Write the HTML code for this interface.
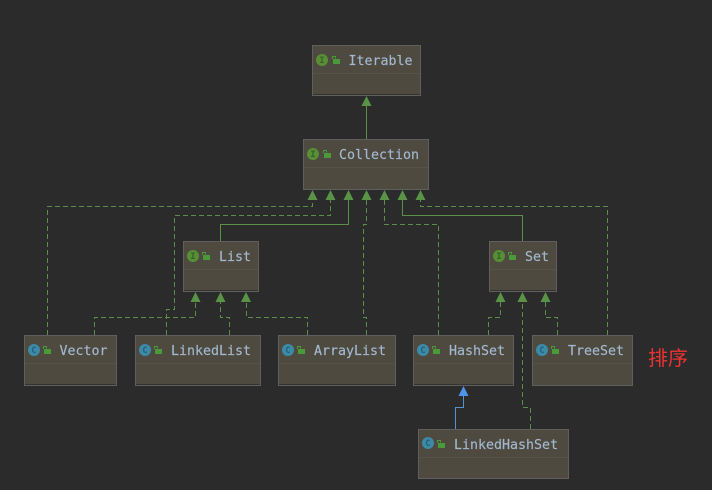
<!DOCTYPE html>
<html><head><meta charset="utf-8">
<style>
html,body{margin:0;padding:0;background:#2b2b2b}
svg{display:block}
.b{fill:#4e4a3f;stroke:#5f5f5f;stroke-width:1}
.d{stroke:#55524a;stroke-width:1}
.f{stroke:#34332e;stroke-width:1}
.t{font-family:"DejaVu Sans Mono","Liberation Mono",monospace;font-size:13.3px;fill:#a3b8d0;stroke:#a3b8d0;stroke-width:.15}
.s{fill:none;stroke:#5a8f4a;stroke-width:1}
.h{fill:none;stroke:#5a8f4a;stroke-width:1;stroke-dasharray:5 3}
.a{fill:#5a9347}
.ic{font-family:"DejaVu Sans Mono",monospace;font-size:9px;font-weight:bold;text-anchor:middle}
</style></head><body>
<svg width="712" height="490" viewBox="0 0 712 490" xmlns="http://www.w3.org/2000/svg">
<rect width="712" height="490" fill="#2b2b2b"/>
<defs>
<g id="lock"><rect x="-3" y="-1" width="7" height="5" fill="#4a9a3a"/><path d="M-3.5 -1 V-3.5 H-0.5 V-1.5" fill="none" stroke="#4a9a3a" stroke-width="1"/></g>
</defs>

<!-- boxes -->
<g>
<rect class="b" x="312.5" y="45.5" width="108" height="50"/><path class="d" d="M313 73.5H420"/><path class="f" d="M313 94.5H420"/>
<rect class="b" x="303.5" y="139.5" width="125" height="50"/><path class="d" d="M304 167.5H428"/>
<rect class="b" x="183.5" y="241.5" width="75" height="50"/><path class="d" d="M184 269.5H258"/><path class="f" d="M184 290.5H258"/>
<rect class="b" x="489.5" y="241.5" width="67" height="50"/><path class="d" d="M490 269.5H556"/><path class="f" d="M490 290.5H556"/>
<rect class="b" x="24.5" y="335.5" width="92" height="50"/><path class="d" d="M25 363.5H116"/><path class="f" d="M25 384.5H116"/>
<rect class="b" x="135.5" y="335.5" width="125" height="50"/><path class="d" d="M136 363.5H260"/><path class="f" d="M136 384.5H260"/>
<rect class="b" x="278.5" y="335.5" width="117" height="50"/><path class="d" d="M279 363.5H395"/><path class="f" d="M279 384.5H395"/>
<rect class="b" x="413.5" y="335.5" width="100" height="50"/><path class="d" d="M414 363.5H513"/><path class="f" d="M414 384.5H513"/>
<rect class="b" x="532.5" y="335.5" width="100" height="50"/><path class="d" d="M533 363.5H632"/>
<rect class="b" x="418.5" y="429.5" width="150" height="49"/><path class="d" d="M419 457.5H568"/>
</g>

<!-- solid -->
<path class="s" d="M366.5 139V106"/>
<path class="s" d="M220.5 241V224.5H348.5V200"/>
<path class="s" d="M522.5 241V215.5H402.5V200"/>
<path fill="none" stroke="#5a8fd0" stroke-width="1" d="M455.5 429V407.5H463.5V396"/>

<!-- dashed -->
<path class="h" d="M47.5 335V206.5H312.5V200"/>
<path class="h" d="M166.5 335V309.5H174.5V215.5H330.5V200"/>
<path class="h" d="M366.5 335V317.5H363.5V224.5H366.5V200"/>
<path class="h" d="M438.5 335V224.5H384.5V200"/>
<path class="h" d="M607.5 335V206.5H420.5V200"/>
<path class="h" d="M94.5 335V317.5H195.5V302"/>
<path class="h" d="M229.5 335V317.5H220.5V302"/>
<path class="h" d="M307.5 335V317.5H246.5V302"/>
<path class="h" d="M488.5 335V317.5H500.5V302"/>
<path class="h" d="M557.5 335V317.5H545.5V302"/>
<path class="h" d="M530.5 429V407.5H522.5V302"/>

<!-- arrowheads -->
<g class="a">
<path d="M366.5 96L371.5 106H361.5Z"/>
<path d="M312.5 190L317.5 200H307.5Z"/>
<path d="M330.5 190L335.5 200H325.5Z"/>
<path d="M348.5 190L353.5 200H343.5Z"/>
<path d="M366.5 190L371.5 200H361.5Z"/>
<path d="M384.5 190L389.5 200H379.5Z"/>
<path d="M402.5 190L407.5 200H397.5Z"/>
<path d="M420.5 190L425.5 200H415.5Z"/>
<path d="M195.5 292L200.5 302H190.5Z"/>
<path d="M220.5 292L225.5 302H215.5Z"/>
<path d="M246 292L251 302H241Z"/>
<path d="M500.5 292L505.5 302H495.5Z"/>
<path d="M522.5 292L527.5 302H517.5Z"/>
<path d="M545.5 292L550.5 302H540.5Z"/>
</g>
<path d="M463.5 386L468.5 396H458.5Z" fill="#4f94e8"/>

<!-- icons -->
<g>
<circle cx="322" cy="60" r="6" fill="#568f35"/><text class="ic" x="322" y="63" fill="#3d5f2a">I</text><use href="#lock" x="336" y="60"/>
<circle cx="313" cy="154" r="6" fill="#568f35"/><text class="ic" x="313" y="157" fill="#3d5f2a">I</text><use href="#lock" x="327" y="154"/>
<circle cx="193" cy="256" r="6" fill="#568f35"/><text class="ic" x="193" y="259" fill="#3d5f2a">I</text><use href="#lock" x="206" y="256"/>
<circle cx="499" cy="256" r="6" fill="#568f35"/><text class="ic" x="499" y="259" fill="#3d5f2a">I</text><use href="#lock" x="512" y="256"/>
<circle cx="34" cy="350" r="6" fill="#3a8aa8"/><text class="ic" x="34" y="353" fill="#2a5f78">C</text><use href="#lock" x="47" y="350"/>
<circle cx="145" cy="350" r="6" fill="#3a8aa8"/><text class="ic" x="145" y="353" fill="#2a5f78">C</text><use href="#lock" x="158" y="350"/>
<circle cx="288" cy="350" r="6" fill="#3a8aa8"/><text class="ic" x="288" y="353" fill="#2a5f78">C</text><use href="#lock" x="301" y="350"/>
<circle cx="423" cy="350" r="6" fill="#3a8aa8"/><text class="ic" x="423" y="353" fill="#2a5f78">C</text><use href="#lock" x="436" y="350"/>
<circle cx="542" cy="350" r="6" fill="#3a8aa8"/><text class="ic" x="542" y="353" fill="#2a5f78">C</text><use href="#lock" x="555" y="350"/>
<circle cx="428" cy="443" r="6" fill="#3a8aa8"/><text class="ic" x="428" y="446" fill="#2a5f78">C</text><use href="#lock" x="441" y="444"/>
</g>

<!-- labels -->
<text class="t" x="348.5" y="65">Iterable</text>
<text class="t" x="339" y="159">Collection</text>
<text class="t" x="219" y="261">List</text>
<text class="t" x="525" y="261">Set</text>
<text class="t" x="59.5" y="355">Vector</text>
<text class="t" x="171" y="355">LinkedList</text>
<text class="t" x="314" y="355">ArrayList</text>
<text class="t" x="449" y="355">HashSet</text>
<text class="t" x="568" y="355">TreeSet</text>
<text class="t" x="454" y="449">LinkedHashSet</text>
<text x="648" y="365" font-family="'Liberation Sans','Noto Sans CJK SC',sans-serif" font-size="20" fill="#ee3333">排序</text>
</svg>
</body></html>
